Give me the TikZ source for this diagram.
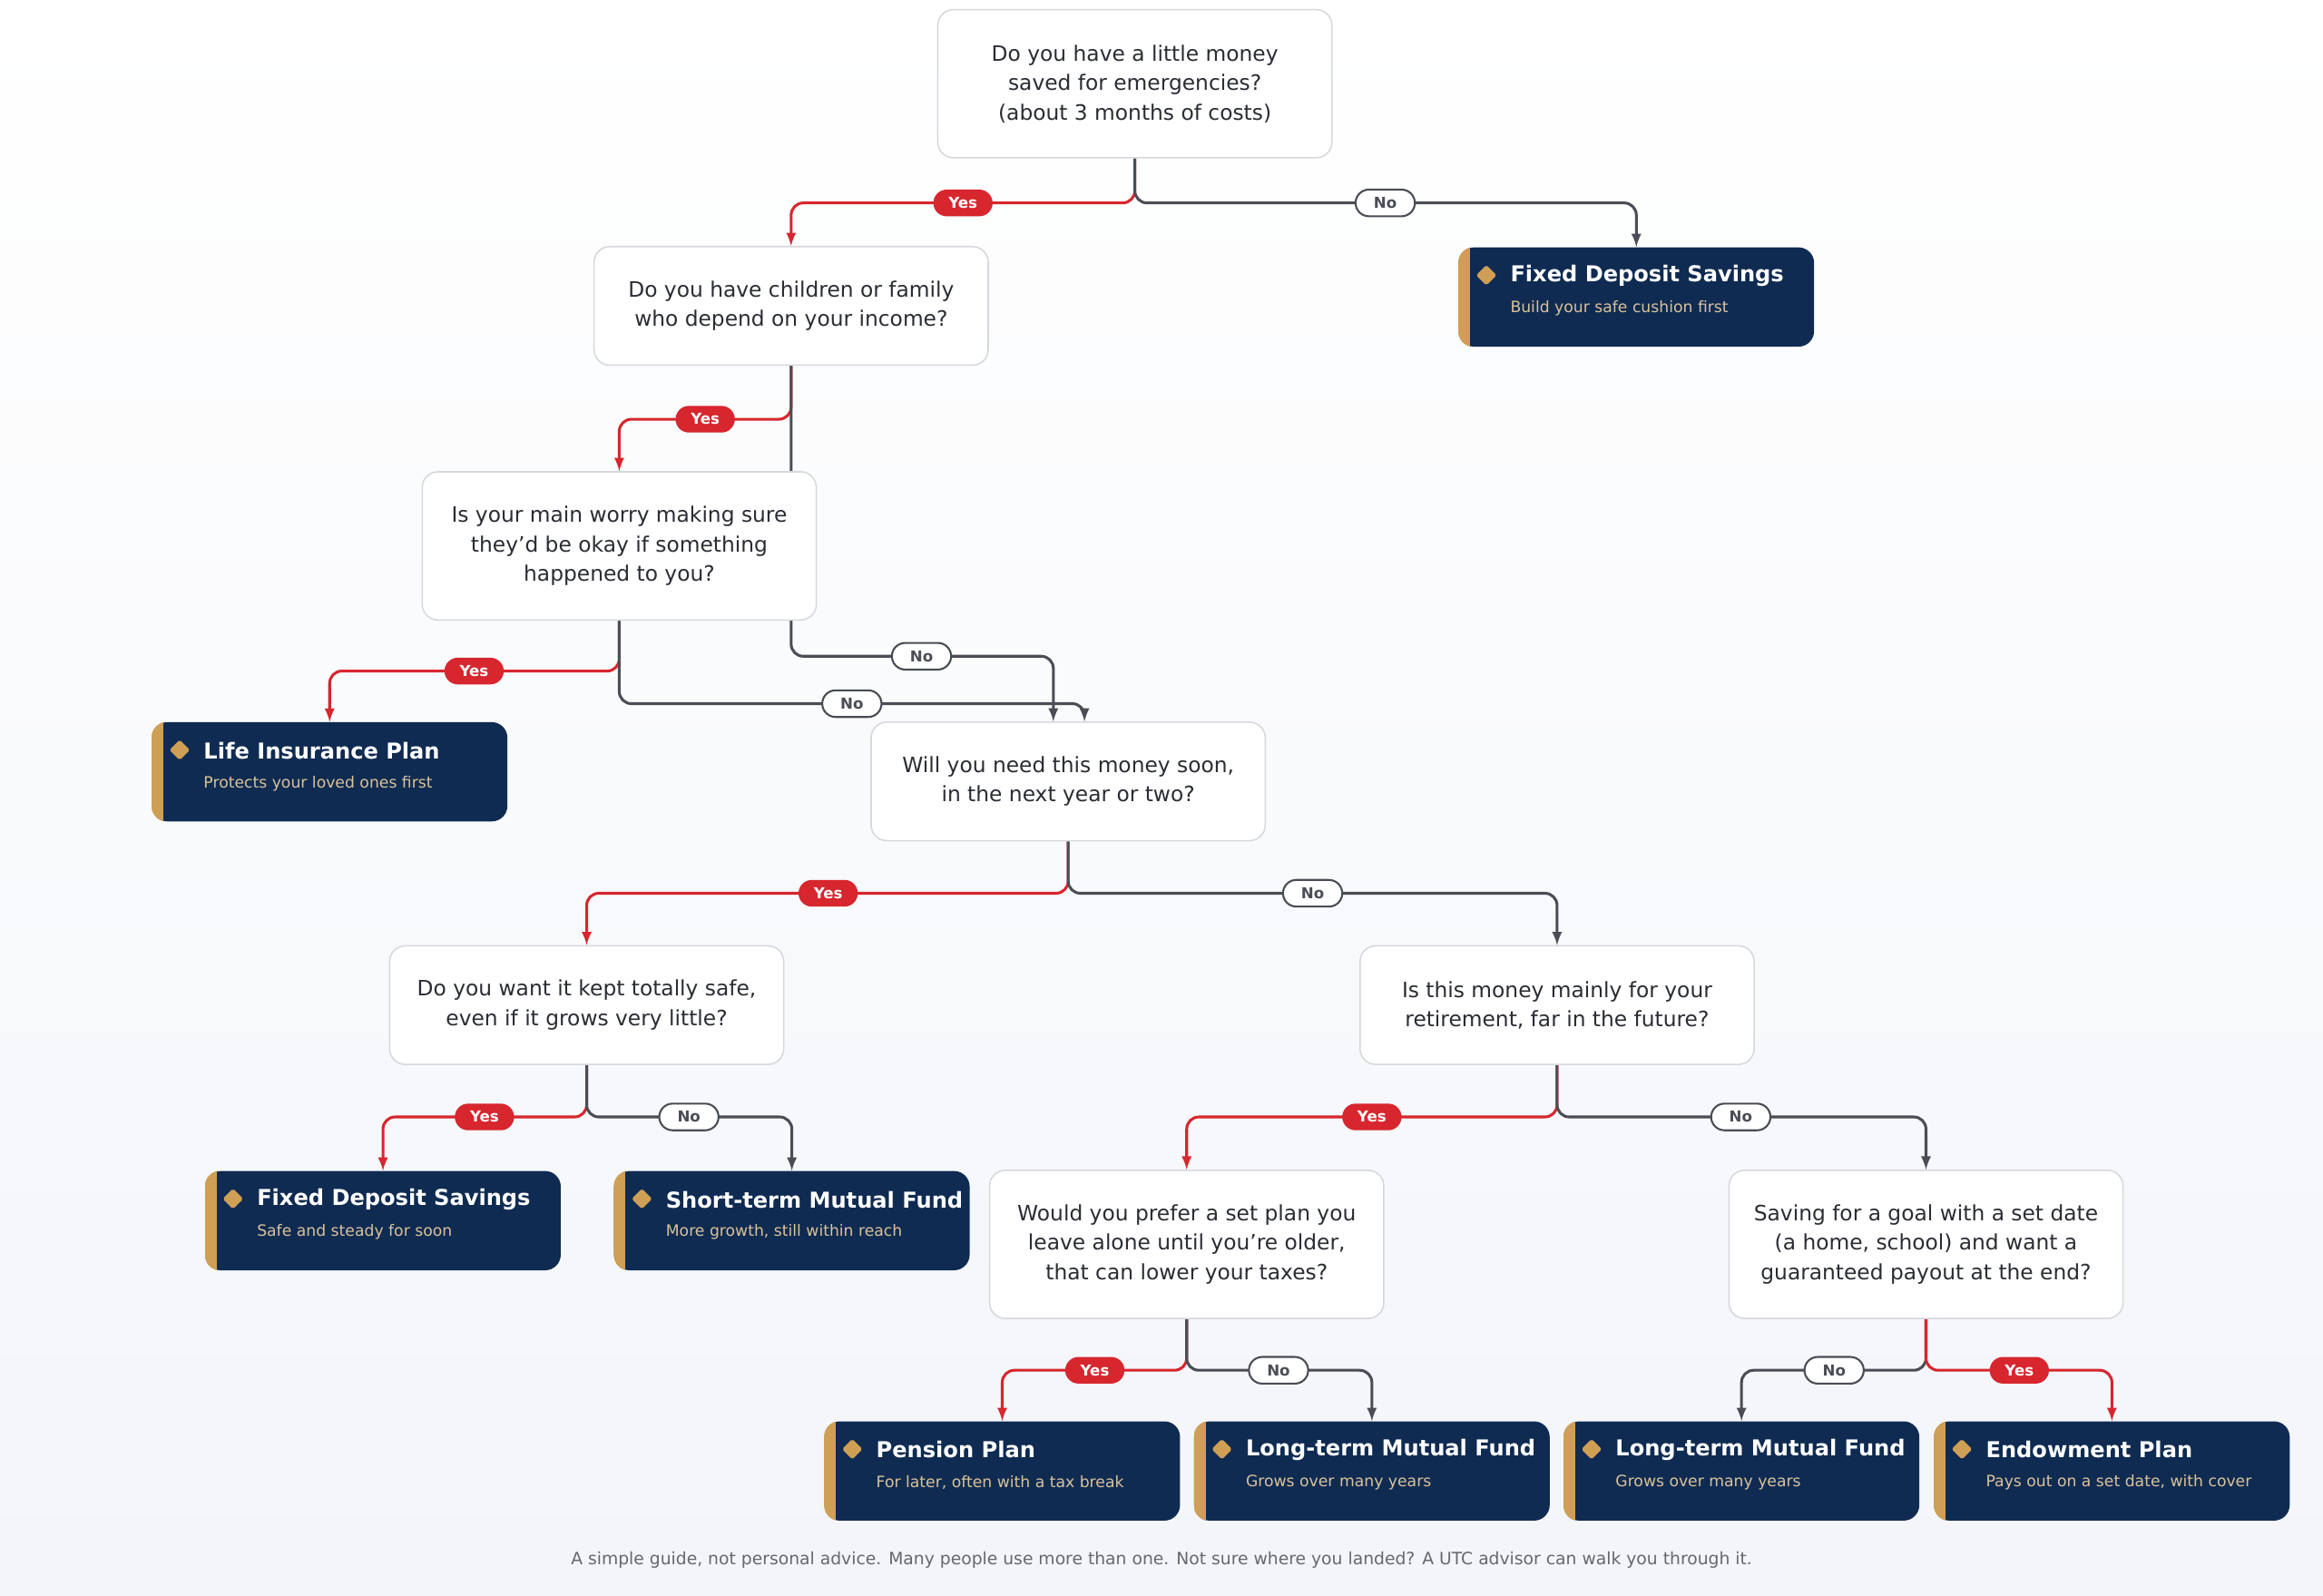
\documentclass[tikz,border=0pt]{standalone}
\usepackage{fontspec}
\setmainfont{DejaVu Sans}[Ligatures=ResetAll]
\usetikzlibrary{backgrounds,shapes.geometric}
\definecolor{yred}{HTML}{D7262E}
\definecolor{gr}{HTML}{4A4D55}
\definecolor{navy}{HTML}{0F2B52}
\definecolor{gold}{HTML}{CF9F55}
\definecolor{sub}{HTML}{D9C29A}
\definecolor{qb}{HTML}{D5D8DD}
\definecolor{txt}{HTML}{2A2D33}
\definecolor{bgb}{HTML}{F3F5F9}
\tikzset{
 q/.style={draw=qb,line width=0.8pt,fill=white,rounded corners=9pt,minimum width=266*0.3mm,align=center,font=\fontsize{12.2}{17}\selectfont,text=txt},
 q2/.style={q,minimum height=80*0.3mm},
 q3/.style={q,minimum height=100*0.3mm},
 leaf/.style={fill=navy,rounded corners=9pt,minimum width=240*0.3mm,minimum height=67*0.3mm},
 yes/.style={draw=yred,line width=1.6pt,rounded corners=7pt,-latex},
 no/.style={draw=gr,line width=1.6pt,rounded corners=7pt,-latex},
 yl/.style={fill=yred,text=white,rounded corners=2.7mm,minimum width=40*0.3mm,minimum height=18*0.3mm,inner sep=0pt,font=\bfseries\fontsize{8.7}{10}\selectfont},
 nl/.style={fill=white,draw=gr,line width=1.1pt,text=gr,rounded corners=2.7mm,minimum width=40*0.3mm,minimum height=18*0.3mm,inner sep=0pt,font=\bfseries\fontsize{8.7}{10}\selectfont},
}
\newcommand{\leafnode}[5]{%
 \node[leaf] (#1) at (#2,#3) {};
 \begin{scope}
 \clip[rounded corners=9pt] (#1.south west) rectangle (#1.north east);
 \fill[gold] (#1.south west) rectangle ([xshift=8*0.3mm]#1.north west);
 \end{scope}
 \node[diamond,fill=gold,inner sep=0pt,minimum size=14*0.3mm,rounded corners=1pt] (#1d) at ([xshift=19*0.3mm,yshift=-19*0.3mm]#1.north west) {};
 \node[anchor=west,text=white,font=\bfseries\fontsize{12.6}{14}\selectfont,inner sep=0pt] (#1t) at ([xshift=35*0.3mm,yshift=-19.5*0.3mm]#1.north west) {#4};
 \node[anchor=west,text=sub,font=\fontsize{9}{10}\selectfont,inner sep=0pt] (#1s) at ([xshift=35*0.3mm,yshift=-41.5*0.3mm]#1.north west) {#5};
}
\begin{document}
\begin{tikzpicture}[x=0.03cm,y=-0.03cm]
\useasboundingbox (0,0) rectangle (1568,1077);
\node[q3] (q1) at (766,56.5) {Do you have a little money\\saved for emergencies?\\(about 3 months of costs)};
\node[q2] (q2) at (534,206.5) {Do you have children or family\\who depend on your income?};
\node[q3] (q3) at (418,368.5) {Is your main worry making sure\\they'd be okay if something\\happened to you?};
\node[q2] (q4) at (721,527.5) {Will you need this money soon,\\in the next year or two?};
\node[q2] (q5) at (396,678.5) {Do you want it kept totally safe,\\even if it grows very little?};
\node[q2] (q6) at (1051,678.5) {Is this money mainly for your\\retirement, far in the future?};
\node[q3] (q7) at (801,840) {Would you prefer a set plan you\\leave alone until you're older,\\that can lower your taxes?};
\node[q3] (q8) at (1300,840) {Saving for a goal with a set date\\(a home, school) and want a\\guaranteed payout at the end?};
\leafnode{l1}{1104.5}{200.5}{Fixed Deposit Savings}{Build your safe cushion first}
\leafnode{l2}{222.5}{521}{Life Insurance Plan}{Protects your loved ones first}
\leafnode{l3}{258.5}{824}{Fixed Deposit Savings}{Safe and steady for soon}
\leafnode{l4}{534.5}{824}{Short-term Mutual Fund}{More growth, still within reach}
\leafnode{l5}{676.5}{993}{Pension Plan}{For later, often with a tax break}
\leafnode{l6}{926}{993}{Long-term Mutual Fund}{Grows over many years}
\leafnode{l7}{1175.5}{993}{Long-term Mutual Fund}{Grows over many years}
\leafnode{l8}{1425.5}{993}{Endowment Plan}{Pays out on a set date, with cover}
\node[yl] (y1) at (650,137) {Yes};
\node[nl] (n1) at (935,137) {No};
\node[yl] (y2) at (476,283) {Yes};
\node[nl] (n2) at (622,443) {No};
\node[yl] (y3) at (320,453) {Yes};
\node[nl] (n3) at (575,475) {No};
\node[yl] (y4) at (559,603) {Yes};
\node[nl] (n4) at (886,603) {No};
\node[yl] (y5) at (327,754) {Yes};
\node[nl] (n5) at (465,754) {No};
\node[yl] (y6) at (926,754) {Yes};
\node[nl] (n6) at (1175,754) {No};
\node[yl] (y7) at (739,925) {Yes};
\node[nl] (n7) at (863,925) {No};
\node[nl] (n8) at (1238,925) {No};
\node[yl] (y8) at (1363,925) {Yes};
\node[text=gr!85,font=\fontsize{9.8}{11}\selectfont] (ft) at (784,1053) {A simple guide, not personal advice. Many people use more than one. Not sure where you landed? A UTC advisor can walk you through it.};
\begin{pgfonlayer}{background}
\shade[top color=white,bottom color=bgb] (0,0) rectangle (1568,1077);
\draw[yes] (q1.south) |- (y1.center) -| (q2.north);
\draw[no] (q1.south) |- (n1.center) -| (l1.north);
\draw[yes] (q2.south) |- (y2.center) -| (q3.north);
\draw[no] (q2.south) |- (n2.center) -| ([xshift=-10*0.3mm]q4.north);
\draw[yes] (q3.south) |- (y3.center) -| (l2.north);
\draw[no] (q3.south) |- (n3.center) -| ([xshift=11*0.3mm]q4.north);
\draw[yes] (q4.south) |- (y4.center) -| (q5.north);
\draw[no] (q4.south) |- (n4.center) -| (q6.north);
\draw[yes] (q5.south) |- (y5.center) -| (l3.north);
\draw[no] (q5.south) |- (n5.center) -| (l4.north);
\draw[yes] (q6.south) |- (y6.center) -| (q7.north);
\draw[no] (q6.south) |- (n6.center) -| (q8.north);
\draw[yes] (q7.south) |- (y7.center) -| (l5.north);
\draw[no] (q7.south) |- (n7.center) -| (l6.north);
\draw[no] (q8.south) |- (n8.center) -| (l7.north);
\draw[yes] (q8.south) |- (y8.center) -| (l8.north);
\end{pgfonlayer}
\end{tikzpicture}
\end{document}
